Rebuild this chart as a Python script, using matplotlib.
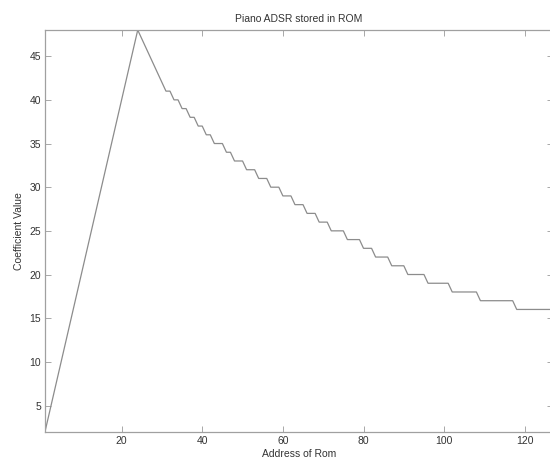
import numpy as np
import matplotlib
matplotlib.use('Agg')
import matplotlib.pyplot as plt

# attack ramp, addresses 1..24
attack = [2, 4, 6, 8, 10, 12, 14, 16, 18, 20, 22, 24,
          26, 28, 30, 32, 34, 36, 38, 40, 42, 44, 46, 48]
# first part of the decay, one value per address (25..30)
decay_head = [47, 46, 45, 44, 43, 42]
# rest of the decay as held levels and how many addresses each lasts
decay_levels = [41, 40, 39, 38, 37, 36, 35, 34, 33, 32, 31, 30, 29,
                28, 27, 26, 25, 24, 23, 22, 21, 20, 19, 18, 17, 16]
decay_counts = [2, 2, 2, 2, 2, 2, 3, 2, 3, 3, 3, 3, 3,
                3, 3, 3, 4, 4, 3, 4, 4, 5, 6, 7, 9, 10]

rom = np.concatenate([attack, decay_head, np.repeat(decay_levels, decay_counts)])
addr = np.arange(1, len(rom) + 1)

plt.rcParams['font.family'] = ['Liberation Sans', 'DejaVu Sans']

fig = plt.figure(figsize=(5.5, 4.63), dpi=100)
ax = fig.add_axes([45/550, 1 - 431.7/463, 508/550, (431.7 - 30)/463])

ax.plot(addr, rom, color='#8c8c8c', lw=0.9)

ax.set_xlim(1, 127)
ax.set_ylim(2, 48)
ax.set_xticks([20, 40, 60, 80, 100, 120])
ax.set_yticks([5, 10, 15, 20, 25, 30, 35, 40, 45])
ax.tick_params(direction='in', top=True, right=True, length=4, width=0.6,
               labelsize=7.5, colors='#9a9a9a', labelcolor='#333333', pad=3)
for s in ax.spines.values():
    s.set_color('#a0a0a0')
    s.set_linewidth(0.9)

ax.set_title('Piano ADSR stored in ROM', fontsize=7.5, color='#333333', pad=6)
ax.set_xlabel('Address of Rom', fontsize=7.5, color='#333333', labelpad=2)
ax.set_ylabel('Coefficient Value', fontsize=7.5, color='#333333', labelpad=4)

fig.savefig('out.png', dpi=100)
